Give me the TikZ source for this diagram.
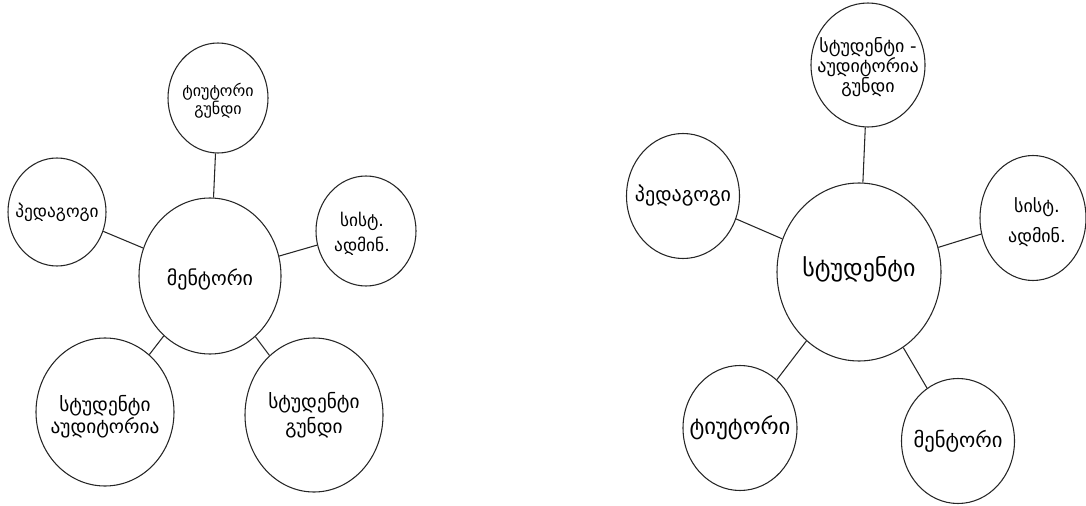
\documentclass[tikz,border=0pt]{standalone}
\usepackage{fontspec}
\setmainfont{DejaVu Sans}
\usetikzlibrary{shapes.geometric}
\begin{document}
\begin{tikzpicture}[x=0.75pt,y=-0.75pt,
  bub/.style 2 args={ellipse, draw=black!85, line width=0.8pt, inner sep=0pt,
    minimum width=#1*0.75pt, minimum height=#2*0.75pt},
  tx/.style 2 args={font=\fontsize{#1}{#2}\selectfont, align=center, inner sep=0pt},
  link/.style={draw=black!85, line width=0.8pt}]
\useasboundingbox (0,0) rectangle (1086,506);
% left diagram
\node[bub={142}{156}] (L0) at (210,276) {};
\node[bub={100}{110}] (L1) at (218,98) {};
\node[bub={98}{108}] (L2) at (57,212) {};
\node[bub={100}{110}] (L3) at (366,231) {};
\node[bub={138}{148}] (L4) at (105,412) {};
\node[bub={138}{154}] (L5) at (314,415) {};
\node[tx={15}{18}] (L0t) at ([yshift=-3*0.75pt]L0.center) {მენტორი};
\node[tx={12}{12.75}] (L1t) at ([yshift=-3*0.75pt]L1.center) {ტიუტორი\\გუნდი};
\node[tx={13}{15}] (L2t) at (L2.center) {პედაგოგი};
\node[tx={13}{18.75}] (L3t) at ([xshift=-4*0.75pt,yshift=-3*0.75pt]L3.center) {სისტ.\\ადმინ.};
\node[tx={14.5}{14.25}] (L4t) at ([yshift=-5*0.75pt]L4.center) {სტუდენტი\\აუდიტორია};
\node[tx={14.5}{18.75}] (L5t) at (L5.center) {სტუდენტი\\გუნდი};
\draw[link] (L0) -- (L1);
\draw[link] (L0) -- (L2);
\draw[link] (L0) -- (L3);
\draw[link] (L0) -- (L4);
\draw[link] (L0) -- (L5);
% right diagram
\node[bub={164}{178}] (R0) at (859,272) {};
\node[bub={114}{124}] (R1) at (868,65) {};
\node[bub={113}{125}] (R2) at (683,196) {};
\node[bub={106}{125}] (R3) at (1033,218) {};
\node[bub={114}{125}] (R4) at (740,428) {};
\node[bub={113}{125}] (R5) at (958,441) {};
\node[tx={18}{21}] (R0t) at ([yshift=3*0.75pt]R0.center) {სტუდენტი};
\node[tx={13.5}{15}] (R1t) at ([yshift=-2*0.75pt]R1.center) {სტუდენტი -\\აუდიტორია\\გუნდი};
\node[tx={15}{18}] (R2t) at (R2.center) {პედაგოგი};
\node[tx={13.5}{22.5}] (R3t) at ([xshift=4*0.75pt,yshift=-4*0.75pt]R3.center) {სისტ.\\ადმინ.};
\node[tx={17}{20}] (R4t) at (R4.center) {ტიუტორი};
\node[tx={15.5}{18}] (R5t) at (R5.center) {მენტორი};
\draw[link] (R0) -- (R1);
\draw[link] (R0) -- (R2);
\draw[link] (R0) -- (R3);
\draw[link] (R0) -- (R4);
\draw[link] (R0) -- (R5);
\end{tikzpicture}
\end{document}
